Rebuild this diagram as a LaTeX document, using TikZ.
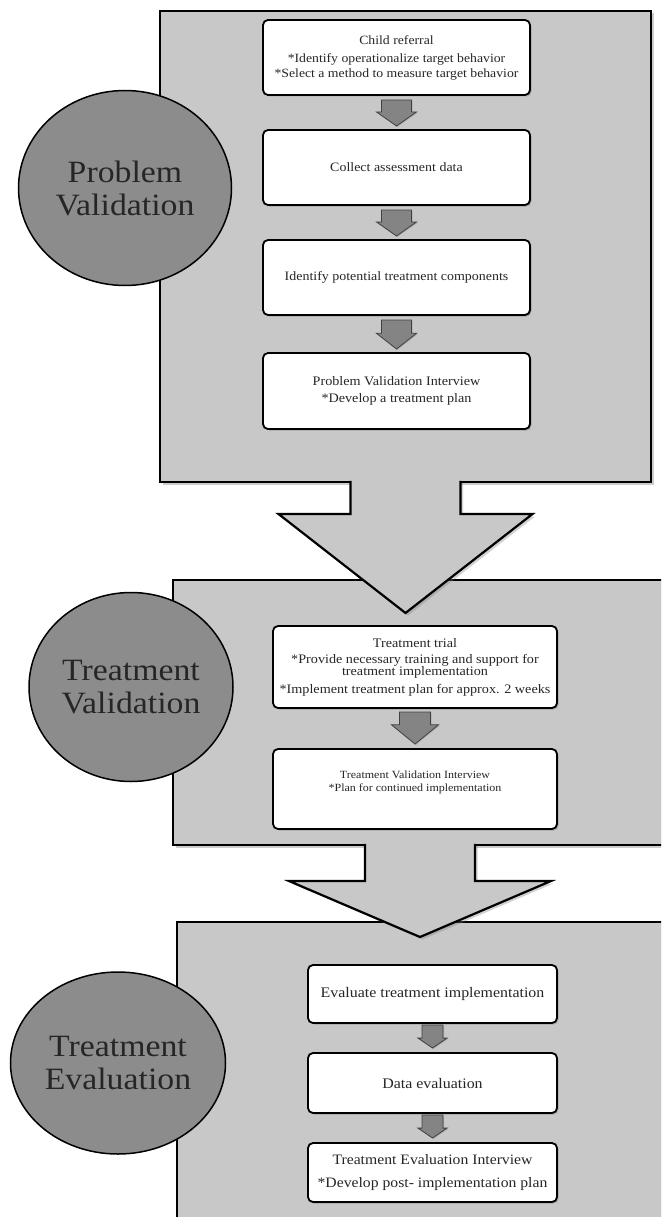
\documentclass[tikz,border=0pt]{standalone}
\usepackage{fontspec}
\setmainfont{Liberation Serif}[FakeStretch=1.09]
\usetikzlibrary{shapes.geometric,shadows,calc}
\definecolor{panelgray}{RGB}{200,200,200}
\definecolor{circgray}{RGB}{140,140,140}
\definecolor{arrgray}{RGB}{132,132,132}
\newcommand\smallarrow[7]{%
  \draw[smallarr] let \p1=($(#1.south)+(0,#5)$), \p2=($(#2.north)+(0,-#6)$), \p3=($(\p1)!#7!(\p2)$) in
    (\x1-#3pt,\y1) -- (\x1+#3pt,\y1) -- (\x1+#3pt,\y3) -- (\x1+#4pt,\y3) -- (\x1,\y2)
    -- (\x1-#4pt,\y3) -- (\x1-#3pt,\y3) -- cycle;}
\newcommand\bigarrow[6]{%
  \path[bigfill] let \p1=(#1.south), \p2=($(#1.south)+(0,#5)$), \p3=($(#2.north)+(0,#6)$) in
    (\x1-#3pt,\y1+1.6pt) -- (\x1+#3pt,\y1+1.6pt) -- (\x1+#3pt,\y2) -- (\x1+#4pt,\y2) -- (\x1,\y3)
    -- (\x1-#4pt,\y2) -- (\x1-#3pt,\y2) -- cycle;
  \draw[bigline] let \p1=(#1.south), \p2=($(#1.south)+(0,#5)$), \p3=($(#2.north)+(0,#6)$) in
    (\x1+#3pt,\y1+1.1pt) -- (\x1+#3pt,\y2) -- (\x1+#4pt,\y2) -- (\x1,\y3)
    -- (\x1-#4pt,\y2) -- (\x1-#3pt,\y2) -- (\x1-#3pt,\y1+1.1pt);}
\begin{document}
\begin{tikzpicture}[x=1pt,y=-1pt,
  panel/.style={rectangle, draw=black, line width=2.2pt, fill=panelgray, inner sep=0pt, outer sep=0pt,
    anchor=north west, drop shadow={shadow xshift=2.5pt, shadow yshift=-2.5pt, opacity=.4}},
  phase/.style={ellipse, draw=black, line width=1.5pt, fill=circgray, align=center, inner sep=0pt,
    text=black!85, font=\fontsize{31}{33}\selectfont},
  stepbox/.style={rectangle, draw=black, line width=1.8pt, rounded corners=5pt, fill=white, align=center,
    inner sep=1pt, outer sep=0pt, text=black!85,
    drop shadow={shadow xshift=1.5pt, shadow yshift=-1.5pt, opacity=.5}},
  smallarr/.style={draw=black!75, line width=.8pt, fill=arrgray, line join=miter,
    drop shadow={shadow xshift=1pt, shadow yshift=-1pt, opacity=.35}},
  bigfill/.style={fill=panelgray, drop shadow={shadow xshift=2.5pt, shadow yshift=-2.5pt, opacity=.35}},
  bigline/.style={draw=black, line width=2.2pt, line join=miter}
]
\useasboundingbox (0,0) rectangle (661,1217);
\fill[white] (0,0) rectangle (661,1217);
\clip (0,0) rectangle (661,1217);

% panels
\node[panel, minimum width=491pt, minimum height=471pt] (p1) at (160,11) {};
\node[panel, minimum width=494pt, minimum height=265pt] (p2) at (173,580) {};
\node[panel, minimum width=493pt, minimum height=320pt] (p3) at (177,922) {};

% big arrows between panels
\bigarrow{p1}{p2}{55}{127}{32}{33}
\bigarrow{p2}{p3}{55}{131}{36}{15}

% phase circles
\node[phase, minimum width=213pt, minimum height=195pt] (c1) at (125,188) {Problem\\Validation};
\node[phase, minimum width=204pt, minimum height=189pt] (c2) at (131,687) {Treatment\\Validation};
\node[phase, minimum width=215pt, minimum height=182pt] (c3) at (118,1063) {Treatment\\Evaluation};

% panel 1 steps
\node[stepbox, minimum width=267pt, minimum height=75pt, font=\fontsize{12.6}{15}\selectfont] (b1) at (396.5,57.5)
  {Child referral\\[3pt]*Identify operationalize target behavior\\[0pt]*Select a method to measure target behavior};
\node[stepbox, minimum width=267pt, minimum height=75pt, font=\fontsize{12.8}{15}\selectfont] (b2) at (396.5,167.5)
  {Collect assessment data};
\node[stepbox, minimum width=267pt, minimum height=75pt, font=\fontsize{12.8}{15}\selectfont] (b3) at (396.5,277.5)
  {Identify potential treatment components};
\node[stepbox, minimum width=267pt, minimum height=76pt, font=\fontsize{13}{17}\selectfont] (b4) at (396.5,391)
  {Problem Validation Interview\\[0pt]*Develop a treatment plan};

% panel 2 steps
\node[stepbox, minimum width=284pt, minimum height=82pt, font=\fontsize{13}{12}\selectfont] (b5) at (415,667)
  {Treatment trial\\[4pt]*Provide necessary training and support for\\treatment implementation\\[6pt]*Implement treatment plan for approx. 2 weeks};
\node[stepbox, minimum width=284pt, minimum height=80pt, font=\fontsize{11}{12.5}\selectfont] (b6) at (415,789)
  {Treatment Validation Interview\\[0pt]*Plan for continued implementation\\[3pt]};

% panel 3 steps
\node[stepbox, minimum width=249pt, minimum height=58pt, font=\fontsize{14.6}{17}\selectfont] (b7) at (432.5,994)
  {Evaluate treatment implementation};
\node[stepbox, minimum width=249pt, minimum height=60pt, font=\fontsize{14.6}{17}\selectfont] (b8) at (432.5,1083)
  {Data evaluation};
\node[stepbox, minimum width=249pt, minimum height=59pt, font=\fontsize{14.4}{23}\selectfont] (b9) at (432.5,1172.5)
  {Treatment Evaluation Interview\\[0pt]*Develop post- implementation plan};

% small arrows
\smallarrow{b1}{b2}{15}{20}{5}{4}{0.46}
\smallarrow{b2}{b3}{15}{20}{5}{4}{0.46}
\smallarrow{b3}{b4}{15}{20}{5}{4}{0.46}
\smallarrow{b5}{b6}{15.5}{23.5}{4}{5}{0.4}
\smallarrow{b7}{b8}{10.5}{14.5}{2}{5}{0.57}
\smallarrow{b8}{b9}{10.5}{14.5}{2}{5}{0.57}
\end{tikzpicture}
\end{document}
